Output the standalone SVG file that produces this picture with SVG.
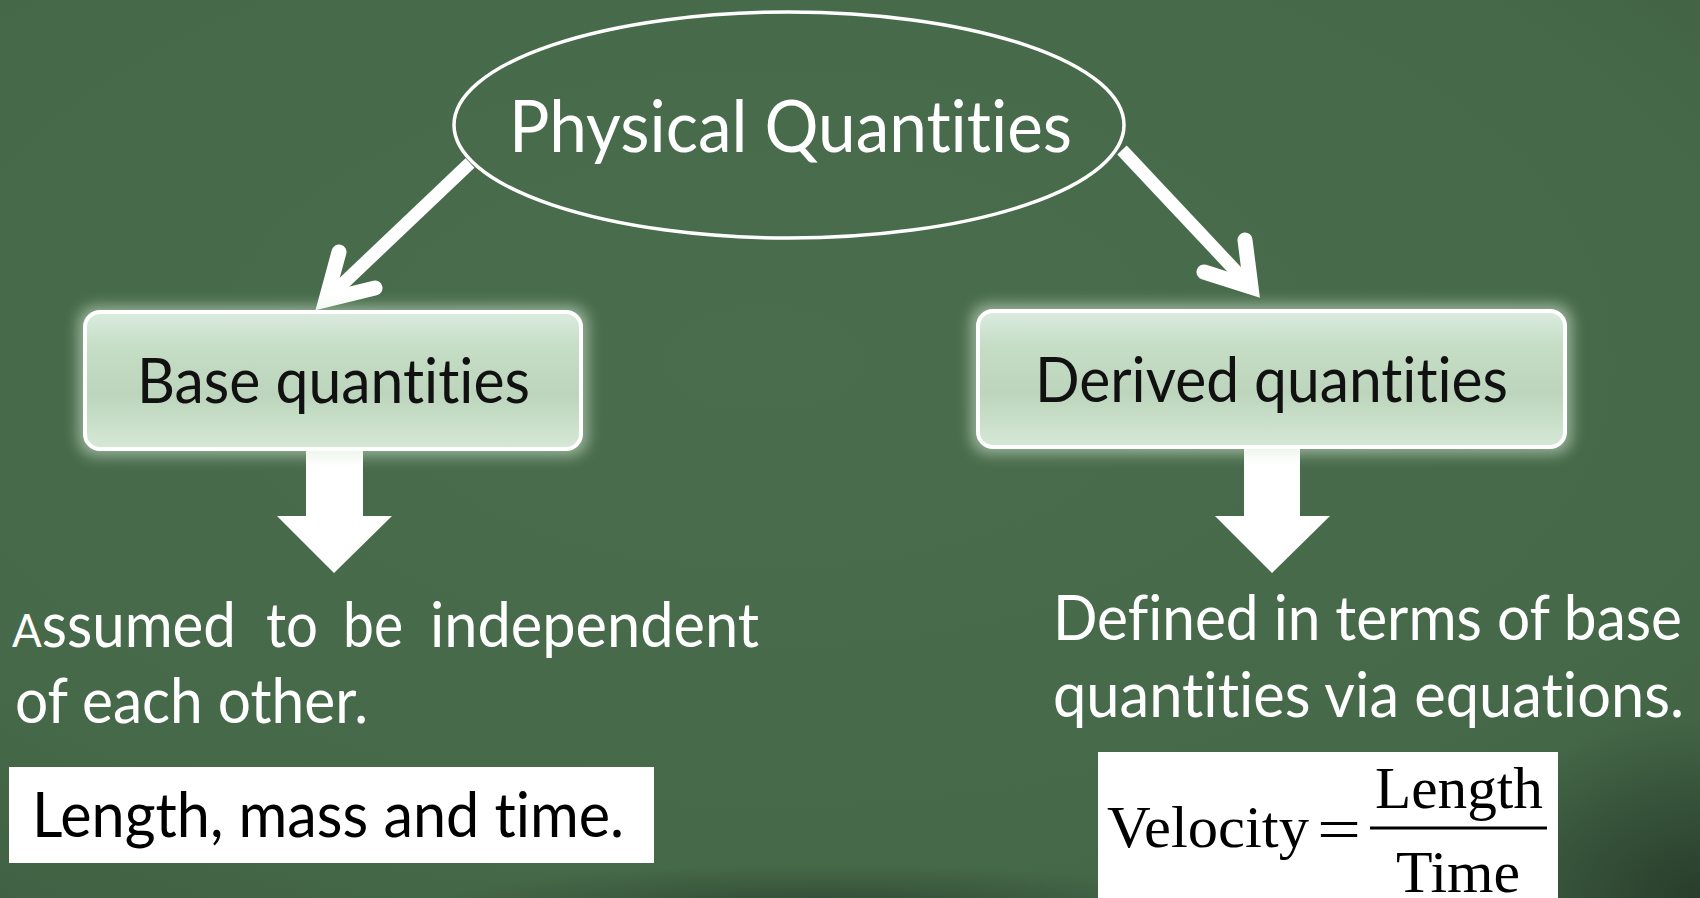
<svg xmlns="http://www.w3.org/2000/svg" width="1700" height="898" viewBox="0 0 1700 898">
  <defs>
    <radialGradient id="bg" cx="0.45" cy="0.4" r="0.8">
      <stop offset="0" stop-color="#4a6e4d"/>
      <stop offset="0.7" stop-color="#466a49"/>
      <stop offset="1" stop-color="#3f5f42"/>
    </radialGradient>
    <radialGradient id="corner" cx="1" cy="1" r="0.6">
      <stop offset="0" stop-color="#263a29" stop-opacity="0.9"/>
      <stop offset="1" stop-color="#263a29" stop-opacity="0"/>
    </radialGradient>
    <radialGradient id="smudge" cx="0.5" cy="0.5" r="0.5">
      <stop offset="0" stop-color="#2a402d" stop-opacity="0.7"/>
      <stop offset="1" stop-color="#2a402d" stop-opacity="0"/>
    </radialGradient>
    <linearGradient id="boxfill" x1="0" y1="0" x2="0" y2="1">
      <stop offset="0" stop-color="#dbece0"/>
      <stop offset="0.25" stop-color="#c6ddc6"/>
      <stop offset="0.6" stop-color="#bcd5bc"/>
      <stop offset="1" stop-color="#d6e8d6"/>
    </linearGradient>
    <filter id="glow" x="-10%" y="-20%" width="120%" height="140%">
      <feGaussianBlur stdDeviation="7"/>
    </filter>
    <style>
      .lbl { font-family: Lato, "Open Sans", sans-serif; font-variant-ligatures: none; font-feature-settings: "liga" 0, "clig" 0; }
      .white { fill: #ffffff; }
      .dark { fill: #111111; }
      .serif { font-family: "Liberation Serif", "Times New Roman", serif; fill: #000; }
      .shaft { stroke: #ffffff; stroke-width: 13; fill: none; stroke-linecap: butt; }
      .head { stroke: #ffffff; stroke-width: 15; fill: none; stroke-linecap: round; stroke-linejoin: miter; stroke-miterlimit: 10; }
      .box { fill: url(#boxfill); stroke: #ffffff; stroke-width: 4; }
      .halo { fill: #d8ead8; opacity: 0.55; filter: url(#glow); }
    </style>
  </defs>

  <!-- background -->
  <rect x="0" y="0" width="1700" height="898" fill="url(#bg)"/>
  <rect x="1300" y="600" width="400" height="298" fill="url(#corner)"/>
  <ellipse cx="820" cy="905" rx="380" ry="40" fill="url(#smudge)"/>

  <!-- connectors -->
  <g id="connectors">
    <line class="shaft" x1="470" y1="163" x2="330" y2="296"/>
    <polyline class="head" points="339,252 326,300 375,288"/>
    <line class="shaft" x1="1122" y1="150" x2="1247" y2="283"/>
    <polyline class="head" points="1245,240 1251,287 1204,272"/>
    <polygon class="white" points="306,450 363,450 363,516 392,516 334,573 277,516 306,516"/>
    <polygon class="white" points="1244,448 1300,448 1300,516 1330,516 1272,573 1215,516 1244,516"/>
  </g>

  <!-- root node -->
  <g id="physical-quantities">
    <ellipse cx="789" cy="125" rx="335" ry="113" fill="none" stroke="#ffffff" stroke-width="3.5"/>
    <text class="lbl white" x="509" y="152" font-size="71" textLength="563" lengthAdjust="spacingAndGlyphs">Physical Quantities</text>
  </g>

  <!-- base quantities -->
  <g id="base-quantities">
    <rect class="halo" x="78" y="306" width="510" height="150" rx="18"/>
    <rect class="box" x="85" y="312" width="496" height="137" rx="15"/>
    <text class="lbl dark" x="137" y="403" font-size="61" textLength="393" lengthAdjust="spacingAndGlyphs">Base quantities</text>
  </g>

  <!-- derived quantities -->
  <g id="derived-quantities">
    <rect class="halo" x="971" y="304" width="601" height="150" rx="18"/>
    <rect class="box" x="978" y="311" width="587" height="136" rx="15"/>
    <text class="lbl dark" x="1035" y="402" font-size="61" textLength="473" lengthAdjust="spacingAndGlyphs">Derived quantities</text>
  </g>

  <!-- base description -->
  <g id="base-description">
    <text class="lbl white" x="12" y="647" font-size="61" textLength="224" lengthAdjust="spacingAndGlyphs"><tspan font-size="46">A</tspan>ssumed</text>
    <text class="lbl white" x="266" y="647" font-size="61" textLength="52" lengthAdjust="spacingAndGlyphs">to</text>
    <text class="lbl white" x="343" y="647" font-size="61" textLength="60" lengthAdjust="spacingAndGlyphs">be</text>
    <text class="lbl white" x="430" y="647" font-size="61" textLength="329" lengthAdjust="spacingAndGlyphs">independent</text>
    <text class="lbl white" x="15" y="723" font-size="61" textLength="353" lengthAdjust="spacingAndGlyphs">of each other.</text>
  </g>

  <!-- base example -->
  <g id="base-example">
    <rect x="9" y="767" width="645" height="96" fill="#ffffff"/>
    <text class="lbl" fill="#000" x="32" y="837" font-size="61" textLength="592" lengthAdjust="spacingAndGlyphs">Length, mass and time.</text>
  </g>

  <!-- derived description -->
  <g id="derived-description">
    <text class="lbl white" x="1053" y="640" font-size="61" textLength="629" lengthAdjust="spacingAndGlyphs">Defined in terms of base</text>
    <text class="lbl white" x="1053" y="717" font-size="61" textLength="631" lengthAdjust="spacingAndGlyphs">quantities via equations.</text>
  </g>

  <!-- derived example -->
  <g id="derived-example">
    <rect x="1098" y="752" width="460" height="150" fill="#ffffff"/>
    <text class="serif" x="1107" y="847" font-size="60" textLength="202" lengthAdjust="spacingAndGlyphs">Velocity</text>
    <text class="serif" x="1317" y="849" font-size="60" textLength="44" lengthAdjust="spacingAndGlyphs">=</text>
    <rect x="1370" y="826.5" width="177" height="3" fill="#000"/>
    <text class="serif" x="1375" y="808" font-size="60" textLength="168" lengthAdjust="spacingAndGlyphs">Length</text>
    <text class="serif" x="1396" y="892" font-size="60" textLength="124" lengthAdjust="spacingAndGlyphs">Time</text>
  </g>
</svg>
